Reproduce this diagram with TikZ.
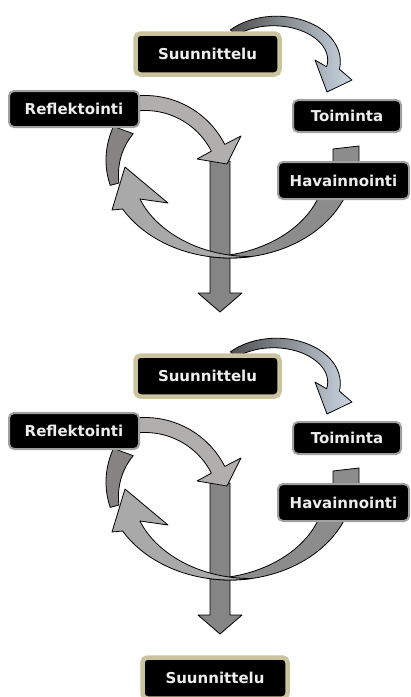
\documentclass[tikz,border=0pt]{standalone}
\usepackage{fontspec}
\setmainfont{DejaVu Sans}
\usetikzlibrary{calc}
\definecolor{Khaki}{HTML}{CBC29E}
\definecolor{Glow}{HTML}{A0A0A0}
\definecolor{Label}{HTML}{EDEDED}
\definecolor{ShaftGray}{HTML}{858585}
\definecolor{RingDark}{HTML}{878383}
\definecolor{RingMid}{HTML}{8C8C8C}
\definecolor{RingLight}{HTML}{A9A9A9}
\definecolor{HookGray}{HTML}{B1AEAE}
\definecolor{ArcDark}{HTML}{4E4E4E}
\definecolor{ArcPale}{HTML}{CAD6E2}

% edge of a band along an ellipse: cx, cy, rx, ry, from, to, offset at from, offset at to
\newcommand{\rim}[8]{plot[domain=#5:#6, samples=40]
  ({#1+(#3+(#7)+((#8)-(#7))*(\x-(#5))/((#6)-(#5)))*cos(\x)},{#2+(#4+(#7)+((#8)-(#7))*(\x-(#5))/((#6)-(#5)))*sin(\x)})}
\newcommand{\rimto}[8]{-- plot[domain=#5:#6, samples=40]
  ({#1+(#3+(#7)+((#8)-(#7))*(\x-(#5))/((#6)-(#5)))*cos(\x)},{#2+(#4+(#7)+((#8)-(#7))*(\x-(#5))/((#6)-(#5)))*sin(\x)})}

\begin{document}
\begin{tikzpicture}[
    x=1pt,
    y=-1pt,
    font=\fontsize{15}{18}\selectfont\bfseries,
    stagebox/.style={fill=black, draw=Glow, line width=2pt, rounded corners=5pt, text=Label, inner sep=0pt},
    planbox/.style={stagebox, draw=Khaki, line width=4.5pt, minimum width=144pt, minimum height=41pt},
    band/.style={draw=black, line width=0.8pt, line join=round}
]

\path[use as bounding box, fill=white] (0,0) rectangle (411,697);

\foreach \dy/\cyc in {0/a,322/b}{
\begin{scope}[shift={(0,\dy)}]
  \draw[band, fill=ShaftGray] (210,161) -- (230,161) -- (230,293) -- (242,293) -- (220,312) -- (198,293) -- (210,293) -- cycle;

  \draw[band, fill=RingDark] \rim{230}{160}{124}{98}{200}{165}{0}{0} \rimto{230}{160}{124}{98}{165}{200}{-9}{-21} -- cycle;
  \draw[band, fill=RingMid] \rim{230}{160}{124}{98}{18}{100}{0}{0} \rimto{230}{160}{124}{98}{100}{18}{0}{-26} -- cycle;
  \draw[band, fill=RingLight] \rim{230}{160}{124}{98}{80}{150}{0}{0} -- (112,210) -- (125,167) -- (168,203)
    \rimto{230}{160}{124}{98}{150}{80}{-20}{0} -- cycle;
  \draw[band, fill=HookGray] \rim{145}{185}{82}{82}{-95}{-27}{7.5}{7.5} -- (241,136) -- (227,164) -- (197,159)
    \rimto{145}{185}{82}{82}{-27}{-95}{-7.5}{-7.5} -- cycle;
  \draw[band, left color=ArcDark, right color=ArcPale] \rim{275}{60.7}{59}{39.7}{-135}{10.6}{4}{6.5} -- (352,80) -- (327,92) -- (315,60)
    \rimto{275}{60.7}{59}{39.7}{10.6}{-135}{-6.5}{-4} -- cycle;
  \draw[band, fill=RingMid] (333,149) -- (359,146) -- (359,166) -- (333,166) -- cycle;

  \node[planbox] (plan\cyc) at (207.5,54) {Suunnittelu};
  \node[stagebox, minimum width=130pt, minimum height=36pt] (refl\cyc) at (74,109) {Reflektointi};
  \node[stagebox, minimum width=108pt, minimum height=32pt] (act\cyc) at (347,116) {Toiminta};
  \node[stagebox, minimum width=131pt, minimum height=37pt] (obs\cyc) at (343.5,180.5) {Havainnointi};
\end{scope}}

\node[planbox, minimum width=145pt] (plannext) at (215,678) {Suunnittelu};

\end{tikzpicture}
\end{document}
